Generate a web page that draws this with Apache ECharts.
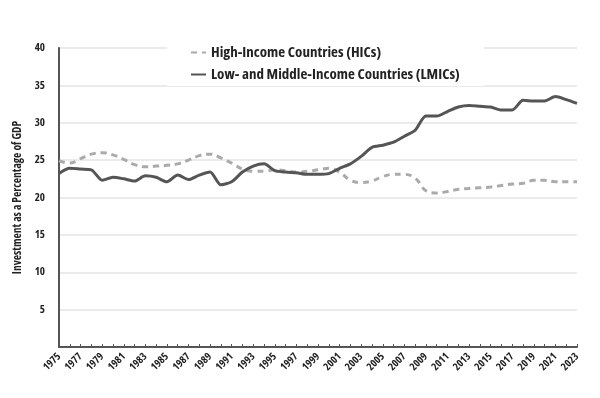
<!DOCTYPE html>
<html lang="en">
<head>
    <meta charset="UTF-8">
    <title>Investment as a Percentage of GDP</title>
    <script src="https://cdn.jsdelivr.net/npm/echarts@6/dist/echarts.min.js"></script>
    <style type="text/css">
        html, body { margin: 0; padding: 0; background: #fff; }
        #chart { width: 600px; height: 398px; }
    </style>
</head>
<body>
    <div id="chart"></div>
<script type="text/javascript">
    var years = [];
    for (var y = 1975; y <= 2023; y++) years.push(String(y));

    var hicName = 'High-Income Countries (HICs)';
    var lmicName = 'Low- and Middle-Income Countries (LMICs)';

    // 1975..2023
    var hic = [24.9, 24.6, 25.2, 25.8, 26.0, 25.7, 25.1, 24.4, 24.1, 24.2,
               24.3, 24.5, 25.0, 25.6, 25.8, 25.3, 24.6, 23.8, 23.5, 23.5,
               23.7, 23.6, 23.4, 23.5, 23.7, 23.9, 23.4, 22.3, 22.0, 22.2,
               22.8, 23.1, 23.1, 22.6, 20.9, 20.6, 20.8, 21.1, 21.2, 21.3,
               21.4, 21.6, 21.8, 21.9, 22.3, 22.3, 22.1, 22.1, 22.1];
    var lmic = [23.2, 23.9, 23.8, 23.7, 22.3, 22.7, 22.5, 22.2, 22.9, 22.7,
                22.1, 23.0, 22.4, 23.0, 23.4, 21.7, 22.1, 23.4, 24.2, 24.5,
                23.6, 23.4, 23.3, 23.1, 23.1, 23.2, 23.9, 24.5, 25.5, 26.7,
                27.0, 27.4, 28.2, 29.0, 30.9, 30.9, 31.5, 32.1, 32.3, 32.2,
                32.1, 31.7, 31.7, 33.0, 32.9, 32.9, 33.5, 33.1, 32.6];

    // condensed bold face (Open Sans has a width axis)
    var font = '"Open Sans", sans-serif';
    var weight = 'bold condensed';

    var myChart = echarts.init(document.getElementById('chart'));
    var option = {
        animation: false,
        textStyle: { fontFamily: font },
        grid: { left: 59, right: 23, top: 48, bottom: 51 },
        legend: {
            orient: 'vertical',
            left: 167,
            top: 41,
            padding: [4, 24, 4, 23],
            backgroundColor: '#ffffff',
            itemWidth: 15,
            itemHeight: 10,
            itemGap: 7,
            itemStyle: { opacity: 0 },
            textStyle: { fontFamily: font, fontSize: 15, fontWeight: weight, color: '#222' },
            data: [hicName, lmicName]
        },
        xAxis: {
            type: 'category',
            data: years,
            boundaryGap: false,
            axisLine: { lineStyle: { color: '#555', width: 2 } },
            axisTick: { show: true, inside: true, length: 3, interval: 0, lineStyle: { color: '#555' } },
            axisLabel: { interval: 1, rotate: 45, fontSize: 10.5, fontWeight: weight, color: '#222', margin: 8, fontFamily: font }
        },
        yAxis: {
            type: 'value',
            min: 0,
            max: 40,
            interval: 5,
            name: 'Investment as a Percentage of GDP',
            nameLocation: 'middle',
            nameGap: 30,
            nameTextStyle: { fontSize: 11.5, fontWeight: weight, color: '#222', fontFamily: font },
            axisLine: { show: true, lineStyle: { color: '#555', width: 2 } },
            axisTick: { show: false },
            axisLabel: {
                fontSize: 11, fontWeight: weight, color: '#222', margin: 14, fontFamily: font,
                formatter: function (v) { return v === 0 ? '' : v; }
            },
            splitLine: { lineStyle: { color: '#e4e4e4', width: 1.5 } }
        },
        series: [
            {
                name: hicName,
                type: 'line',
                data: hic,
                smooth: 0.4,
                symbol: 'none',
                lineStyle: { color: '#aaaaaa', width: 3, type: [6, 5] },
                itemStyle: { color: '#aaaaaa' }
            },
            {
                name: lmicName,
                type: 'line',
                data: lmic,
                smooth: 0.25,
                symbol: 'none',
                lineStyle: { color: '#555555', width: 3 },
                itemStyle: { color: '#555555' }
            }
        ]
    };
    myChart.setOption(option);
</script>
</body>
</html>
